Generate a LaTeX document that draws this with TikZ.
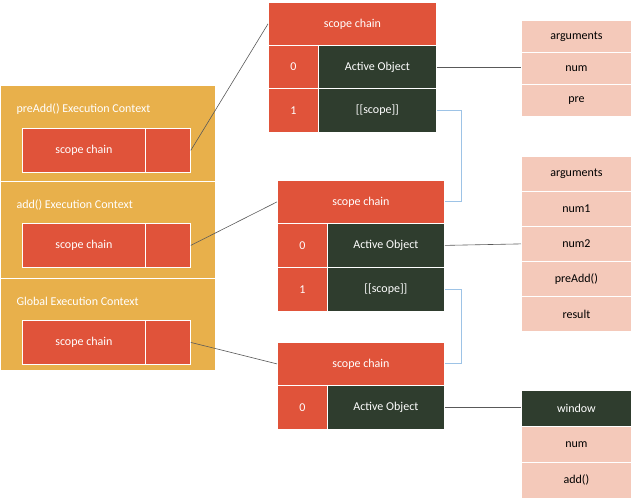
\documentclass[tikz,border=0pt]{standalone}
\usepackage{fontspec}
\setmainfont{Carlito}
\definecolor{cred}{HTML}{E0533A}
\definecolor{cgreen}{HTML}{2F3D2E}
\definecolor{corange}{HTML}{E8B04B}
\definecolor{cpink}{HTML}{F4C9BA}
\definecolor{cblue}{HTML}{9DC3E6}
\begin{document}
\begin{tikzpicture}[x=1pt,y=-1pt,
  cell/.style={draw=white,line width=0.8pt,minimum height=#1pt,inner sep=0pt,anchor=north west,font=\fontsize{12}{14}\selectfont},
  rbox/.style={fill=cred,text=white},
  gbox/.style={fill=cgreen,text=white},
  pbox/.style={fill=cpink,text=black},
  obox/.style={fill=corange,draw=white,line width=0.8pt,anchor=north west,inner sep=0pt},
  link/.style={draw=gray!70!black,line width=0.6pt},
  blink/.style={draw=cblue,line width=0.8pt}]
\useasboundingbox (0,0) rectangle (633,500);
% left panel
\node[obox,minimum width=215pt,minimum height=96pt] (c1) at (0,85) {};
\node[obox,minimum width=215pt,minimum height=97pt] (c2) at (0,181) {};
\node[obox,minimum width=215pt,minimum height=92pt] (c3) at (0,278) {};
\node[anchor=west,text=white,font=\fontsize{12}{14}\selectfont] (l1) at (13,109) {preAdd() Execution Context};
\node[anchor=west,text=white,font=\fontsize{12}{14}\selectfont] (l2) at (13,205) {add() Execution Context};
\node[anchor=west,text=white,font=\fontsize{12}{14}\selectfont] (l3) at (13,301) {Global Execution Context};
\foreach \n/\y in {1/128,2/223,3/320}{
  \node[cell=44,rbox,minimum width=123pt] (s\n) at (22,\y) {scope chain};
  \node[cell=44,rbox,minimum width=45pt] (p\n) at (145,\y) {};
}
% top stack
\node[cell=43,rbox,minimum width=168pt] (h1) at (268,2) {scope chain};
\node[cell=43,rbox,minimum width=50pt] (i10) at (268,45) {0};
\node[cell=43,gbox,minimum width=118pt] (a1) at (318,45) {Active Object};
\node[cell=44,rbox,minimum width=50pt] (i11) at (268,88) {1};
\node[cell=44,gbox,minimum width=118pt] (sc1) at (318,88) {[[scope]]};
% middle stack
\node[cell=43,rbox,minimum width=167pt] (h2) at (277,180) {scope chain};
\node[cell=44,rbox,minimum width=50pt] (i20) at (277,223) {0};
\node[cell=44,gbox,minimum width=117pt] (a2) at (327,223) {Active Object};
\node[cell=44,rbox,minimum width=50pt] (i21) at (277,267) {1};
\node[cell=44,gbox,minimum width=117pt] (sc2) at (327,267) {[[scope]]};
% bottom stack
\node[cell=43,rbox,minimum width=167pt] (h3) at (277,342) {scope chain};
\node[cell=44,rbox,minimum width=50pt] (i30) at (277,385) {0};
\node[cell=44,gbox,minimum width=117pt] (a3) at (327,385) {Active Object};
% right lists
\node[cell=32,pbox,minimum width=110pt] (r1a) at (521,20) {arguments};
\node[cell=32,pbox,minimum width=110pt] (r1b) at (521,52) {num};
\node[cell=32,pbox,minimum width=110pt] (r1c) at (521,84) {pre};
\node[cell=35,pbox,minimum width=110pt] (r2a) at (521,156) {arguments};
\node[cell=35,pbox,minimum width=110pt] (r2b) at (521,191) {num1};
\node[cell=35,pbox,minimum width=110pt] (r2c) at (521,226) {num2};
\node[cell=35,pbox,minimum width=110pt] (r2d) at (521,261) {preAdd()};
\node[cell=35,pbox,minimum width=110pt] (r2e) at (521,296) {result};
\node[cell=36,gbox,minimum width=110pt] (r3a) at (521,390) {window};
\node[cell=36,pbox,minimum width=110pt] (r3b) at (521,426) {num};
\node[cell=36,pbox,minimum width=110pt] (r3c) at (521,462) {add()};
% connectors
\draw[link] (p1.east) -- (h1.west);
\draw[link] (p2.east) -- (h2.west);
\draw[link] (p3.east) -- (h3.west);
\draw[link] (a1.east) -- (a1.east -| r1b.west);
\draw[link] (a2.east) -- (r2c.west);
\draw[link] (a3.east) -- (a3.east -| r3a.west);
\draw[blink] (sc1.east) -- ++(25,0) |- (h2.east);
\draw[blink] (sc2.east) -- ++(17,0) |- (h3.east);
\end{tikzpicture}
\end{document}
